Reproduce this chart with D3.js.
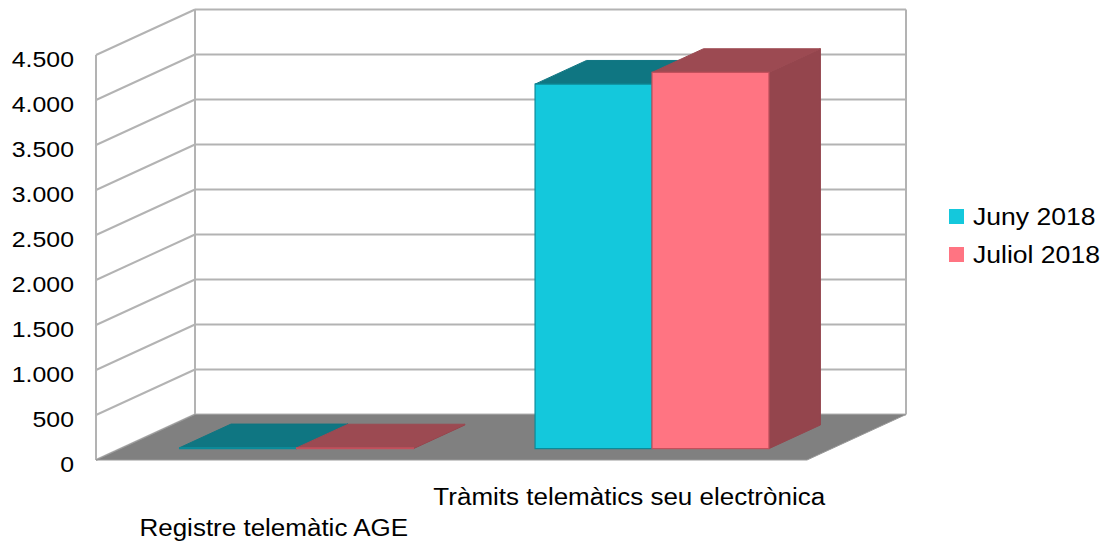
<!doctype html>
<html lang="ca">
<head>
  <meta charset="utf-8">
  <title>Registre telemàtic</title>
  <script src="https://d3js.org/d3.v7.min.js"></script>
  <style>
    body { margin: 0; background: #fff; }
    text { font-family: "Liberation Sans", Arial, sans-serif; fill: #000; }
    .grid { stroke: #b3b3b3; stroke-width: 2; fill: none; }
  </style>
</head>
<body>
  <div id="chart"></div>
  <script>
// data
const categories = ['Registre telemàtic AGE', 'Tràmits telemàtics seu electrònica'];
const seriesNames = ['Juny 2018', 'Juliol 2018'];
const juny = [10, 4050];
const juliol = [8, 4180];
const yTicks = [0, 500, 1000, 1500, 2000, 2500, 3000, 3500, 4000, 4500];

const width = 1114, height = 542;
const DX = 99, DY = 45.5;   // depth of the box
const sx = 1.13;            // text is a bit stretched in the original

const colors = {
  'Juny 2018': { front: '#14c8dc', top: '#0f7682', side: '#0d6a75', edge: '#0b8a99' },
  'Juliol 2018': { front: '#ff7482', top: '#9c4a52', side: '#94454d', edge: '#c2505c' }
};

const svg = d3.select('#chart').append('svg')
  .attr('width', width)
  .attr('height', height);

const x = d3.scaleBand().domain(categories).range([96, 807]);
const xs = d3.scaleBand().domain(seriesNames).range([0, x.bandwidth()]).paddingOuter(0.52);
const y = d3.scaleLinear().domain([0, 4500]).range([460, 55]);

// oblique projection: front plane + depth z in [0,1]
const P = (px, v, z) => [px + z * DX, y(v) - z * DY];
const poly = pts => 'M' + pts.map(p => p.join(',')).join('L') + 'Z';

const fmt = d3.formatLocale({ decimal: ',', thousands: '.', grouping: [3], currency: ['', '€'] }).format(',d');

// back wall
const walls = svg.append('g');
yTicks.forEach(v => {
  const a = P(x.range()[0], v, 1), b = P(x.range()[1], v, 1);
  walls.append('line').attr('class', 'grid')
    .attr('x1', a[0]).attr('y1', a[1]).attr('x2', b[0]).attr('y2', b[1]);
});
[x.range()[0], x.range()[1]].forEach(px => {
  const a = P(px, 0, 1), b = P(px, 4500, 1);
  walls.append('line').attr('class', 'grid')
    .attr('x1', a[0]).attr('y1', a[1]).attr('x2', b[0]).attr('y2', b[1]);
});

// left wall
yTicks.forEach(v => {
  const a = P(x.range()[0], v, 0), b = P(x.range()[0], v, 1);
  walls.append('line').attr('class', 'grid')
    .attr('x1', a[0]).attr('y1', a[1]).attr('x2', b[0]).attr('y2', b[1]);
});
walls.append('line').attr('class', 'grid')
  .attr('x1', x.range()[0]).attr('y1', y(0)).attr('x2', x.range()[0]).attr('y2', y(4500));

// floor
svg.append('path')
  .attr('d', poly([P(x.range()[0], 0, 0), P(x.range()[1], 0, 0), P(x.range()[1], 0, 1), P(x.range()[0], 0, 1)]))
  .attr('fill', '#808080')
  .attr('stroke', '#9a9a9a')
  .attr('stroke-width', 1);

// bars
const z0 = 0.25, z1 = 0.77;
const bars = [];
categories.forEach((c, i) => {
  bars.push({ cat: c, s: 'Juny 2018', v: juny[i] });
  bars.push({ cat: c, s: 'Juliol 2018', v: juliol[i] });
});

const barG = svg.append('g');
bars.forEach(d => {
  const x0 = x(d.cat) + xs(d.s) - 2, x1 = x0 + xs.bandwidth();
  const col = colors[d.s];
  const g = barG.append('g');
  g.append('path')
    .attr('d', poly([P(x1, 0, z0), P(x1, 0, z1), P(x1, d.v, z1), P(x1, d.v, z0)]))
    .attr('fill', col.side).attr('stroke', col.side).attr('stroke-linejoin', 'round');
  g.append('path')
    .attr('d', poly([P(x0, d.v, z0), P(x1, d.v, z0), P(x1, d.v, z1), P(x0, d.v, z1)]))
    .attr('fill', col.top).attr('stroke', col.top).attr('stroke-linejoin', 'round');
  g.append('path')
    .attr('d', poly([P(x0, 0, z0), P(x1, 0, z0), P(x1, d.v, z0), P(x0, d.v, z0)]))
    .attr('fill', col.front).attr('stroke', col.edge).attr('stroke-width', 1.2);
});

// y tick labels
svg.append('g').selectAll('text')
  .data(yTicks)
  .join('text')
  .attr('transform', d => `translate(74,${y(d) + 12}) scale(${sx},1)`)
  .attr('text-anchor', 'end')
  .style('font-size', '22px')
  .text(d => fmt(d));

// category labels, staggered
svg.append('g').selectAll('text')
  .data(categories)
  .join('text')
  .attr('transform', (d, i) => `translate(${x(d) + x.bandwidth() / 2},${i % 2 === 0 ? 536 : 505}) scale(${sx},1)`)
  .attr('text-anchor', 'middle')
  .style('font-size', '23px')
  .text(d => d);

// legend
const legend = svg.append('g').selectAll('g')
  .data(seriesNames)
  .join('g')
  .attr('transform', (d, i) => `translate(949,${209 + i * 38})`);
legend.append('rect')
  .attr('width', 15).attr('height', 15)
  .attr('fill', d => colors[d].front);
legend.append('text')
  .attr('transform', `translate(24,15.5) scale(${sx},1)`)
  .style('font-size', '23.5px')
  .text(d => d);
  </script>
</body>
</html>
